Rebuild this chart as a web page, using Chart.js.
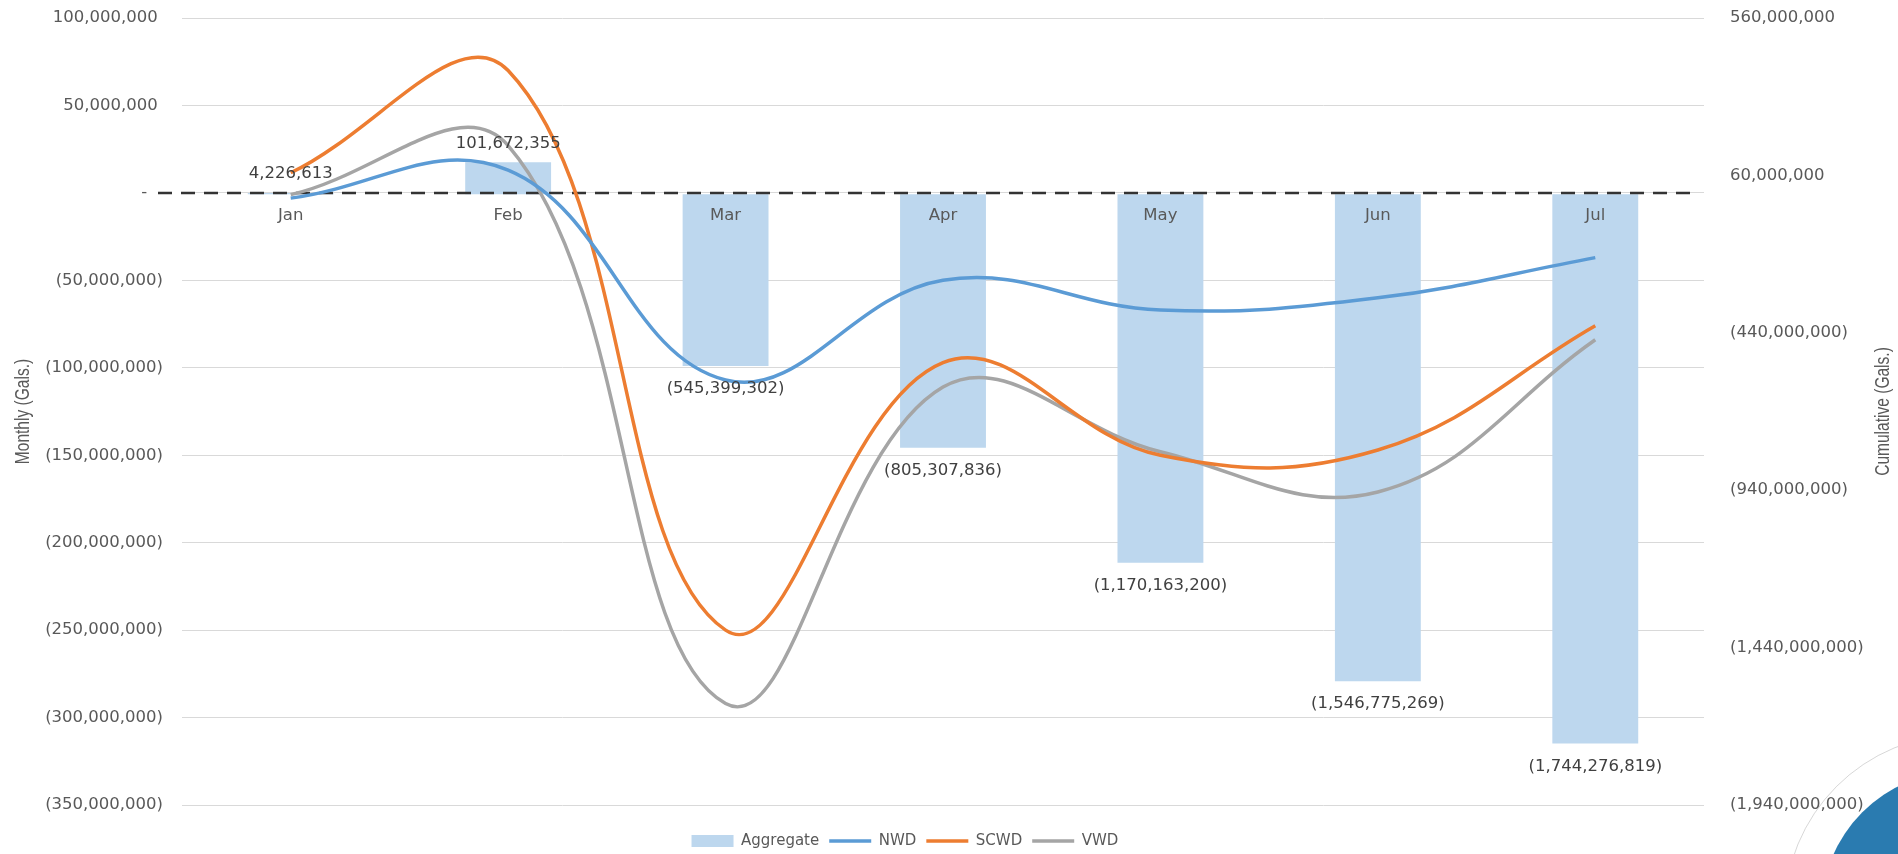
<!DOCTYPE html>
<html>
<head>
<meta charset="utf-8">
<script src="https://cdn.jsdelivr.net/npm/chart.js@4.4.0/dist/chart.umd.min.js"></script>
<style>
html,body{margin:0;padding:0;background:#fff;overflow:hidden;}
#wrap{position:relative;width:1898px;height:854px;overflow:hidden;}
#c{position:absolute;left:0;top:0;}
#arc{position:absolute;left:1784px;top:734px;width:356px;height:356px;border-radius:50%;border:1px solid rgba(140,140,140,0.35);box-sizing:border-box;}
#blob{position:absolute;left:1821px;top:771px;width:282px;height:282px;border-radius:50%;background:#2a7bb0;}
</style>
</head>
<body>
<div id="wrap">
  <canvas id="c" width="1898" height="854"></canvas>
  <div id="arc"></div>
  <div id="blob"></div>
</div>
<script>
// ---- data ----
const categories = ['Jan', 'Feb', 'Mar', 'Apr', 'May', 'Jun', 'Jul'];
const aggregate = [4226613, 101672355, -545399302, -805307836, -1170163200, -1546775269, -1744276819];
const nwd  = [-3000000,  13000000, -107000000,  -50000000,  -67000000,  -60000000, -37000000];
const scwd = [11500000,  70000000, -250000000,  -97000000, -150000000, -147000000, -76000000];
const vwd  = [-1000000,  27000000, -292000000, -111000000, -148000000, -171000000, -84000000];
const leftTicks  = { min: -350000000, max: 100000000, step: 50000000 };
const rightTicks = { min: -1940000000, max: 560000000, step: 500000000 };
const leftAxisTitle = 'Monthly (Gals.)';
const rightAxisTitle = 'Cumulative (Gals.)';

const nf = new Intl.NumberFormat('en-US');
function acct(v) {
  if (v === 0) return '-';
  const s = nf.format(Math.abs(v));
  return v < 0 ? '(' + s + ')' : s;
}

const TICK_FONT = { family: '"DejaVu Sans", Verdana, sans-serif', size: 16.5 };
const GREY = '#595959';

const barLabels = {
  id: 'barLabels',
  afterDatasetsDraw(chart) {
    const ctx = chart.ctx;
    chart.data.datasets.forEach((ds, i) => {
      if (ds.type !== 'bar') return;
      const meta = chart.getDatasetMeta(i);
      meta.data.forEach((el, j) => {
        const v = ds.data[j];
        const p = el.getProps(['x', 'y', 'base'], true);
        ctx.save();
        ctx.font = '16.5px "DejaVu Sans", Verdana, sans-serif';
        ctx.fillStyle = '#404040';
        ctx.textAlign = 'center';
        ctx.textBaseline = 'middle';
        const ty = v >= 0 ? Math.min(p.y, p.base) - 19 : Math.max(p.y, p.base) + 23;
        ctx.fillText(acct(v), p.x, ty);
        ctx.restore();
      });
    });
  }
};

// dashed horizontal axis line at zero, drawn over the bars but under the lines
const zeroLine = {
  id: 'zeroLine',
  afterDatasetDraw(chart, args) {
    if (chart.data.datasets[args.index].type !== 'bar') return;
    const ctx = chart.ctx;
    const a = chart.chartArea;
    const y0 = chart.scales.y.getPixelForValue(0);
    ctx.save();
    ctx.strokeStyle = '#333333';
    ctx.lineWidth = 2.5;
    ctx.setLineDash([14, 9]);
    ctx.beginPath();
    ctx.moveTo(a.left - 24, y0);
    ctx.lineTo(a.right - 8, y0);
    ctx.stroke();
    ctx.restore();
  }
};

// both axis titles, condensed, reading bottom-to-top
const axisTitles = {
  id: 'axisTitles',
  afterDraw(chart) {
    const ctx = chart.ctx;
    const a = chart.chartArea;
    const cy = (a.top + a.bottom) / 2;
    [[leftAxisTitle, 23], [rightAxisTitle, chart.width - 15]].forEach(([text, x]) => {
      ctx.save();
      ctx.translate(x, cy);
      ctx.rotate(-Math.PI / 2);
      ctx.scale(0.74, 1);
      ctx.font = '21px "Liberation Sans", Arial, sans-serif';
      ctx.fillStyle = GREY;
      ctx.textAlign = 'center';
      ctx.textBaseline = 'middle';
      ctx.fillText(text, 0, 0);
      ctx.restore();
    });
  }
};

new Chart(document.getElementById('c'), {
  type: 'bar',
  data: {
    labels: categories,
    datasets: [
      { type: 'bar', label: 'Aggregate', data: aggregate, yAxisID: 'y1', order: 2,
        backgroundColor: '#BDD7EE', borderWidth: 0, pointStyle: 'rect',
        categoryPercentage: 1, barPercentage: 0.395 },
      { type: 'line', label: 'NWD', data: nwd, yAxisID: 'y', order: 1,
        borderColor: '#5B9BD5', backgroundColor: '#5B9BD5', borderWidth: 3.5, pointBorderWidth: 3.5,
        pointRadius: 0, pointHoverRadius: 0, pointStyle: 'line', tension: 0.4, fill: false },
      { type: 'line', label: 'SCWD', data: scwd, yAxisID: 'y', order: 1,
        borderColor: '#ED7D31', backgroundColor: '#ED7D31', borderWidth: 3.5, pointBorderWidth: 3.5,
        pointRadius: 0, pointHoverRadius: 0, pointStyle: 'line', tension: 0.4, fill: false },
      { type: 'line', label: 'VWD', data: vwd, yAxisID: 'y', order: 1,
        borderColor: '#A5A5A5', backgroundColor: '#A5A5A5', borderWidth: 3.5, pointBorderWidth: 3.5,
        pointRadius: 0, pointHoverRadius: 0, pointStyle: 'line', tension: 0.4, fill: false }
    ]
  },
  options: {
    responsive: false,
    animation: false,
    devicePixelRatio: 1,
    layout: { padding: { top: 18, bottom: -4.5, left: 0, right: 0 } },
    plugins: {
      tooltip: { enabled: false },
      legend: {
        position: 'bottom',
        title: { display: true, text: ' ', font: { size: 1 }, padding: { top: 0, bottom: 17.3 } },
        labels: {
          usePointStyle: true, pointStyleWidth: 42, boxHeight: 12,
          padding: 10, color: GREY,
          font: { family: '"DejaVu Sans", Verdana, sans-serif', size: 15 },
          sort: (a, b) => a.datasetIndex - b.datasetIndex,
          generateLabels: (chart) => {
            const items = Chart.defaults.plugins.legend.labels.generateLabels(chart);
            // invisible spacer: the reference legend sits left of the plot centre
            items.push({ text: '\u2007\u2007\u2007', fillStyle: 'rgba(0,0,0,0)', strokeStyle: 'rgba(0,0,0,0)',
                         fontColor: 'rgba(0,0,0,0)', lineWidth: 0, pointStyle: 'line', hidden: false, datasetIndex: 99 });
            return items;
          }
        }
      }
    },
    scales: {
      x: {
        position: { y: 0 },
        offset: true,
        grid: { display: false, drawTicks: false },
        border: { display: false },
        ticks: { color: GREY, font: TICK_FONT, padding: 13, z: 1, maxRotation: 0 },
        afterFit: s => { s.height = 0; }
      },
      y: {
        position: 'left',
        min: leftTicks.min, max: leftTicks.max,
        ticks: {
          stepSize: leftTicks.step, color: GREY, font: TICK_FONT, padding: 19,
          callback: v => v === 0 ? '-\u2007\u2008' : (v > 0 ? acct(v) + '\u2008' : acct(v))
        },
        grid: { color: '#D9D9D9', lineWidth: 1, drawTicks: false },
        border: { display: false },
        afterFit: s => { s.width = 182; s.paddingTop = 10; s.paddingBottom = 10; }
      },
      y1: {
        position: 'right',
        min: rightTicks.min, max: rightTicks.max,
        ticks: { stepSize: rightTicks.step, color: GREY, font: TICK_FONT, padding: 26,
                 callback: v => acct(v) },
        grid: { drawOnChartArea: false, drawTicks: false },
        border: { display: false },
        afterFit: s => { s.width = 194; s.paddingTop = 10; s.paddingBottom = 10; }
      }
    }
  },
  plugins: [zeroLine, barLabels, axisTitles]
});
</script>
</body>
</html>
